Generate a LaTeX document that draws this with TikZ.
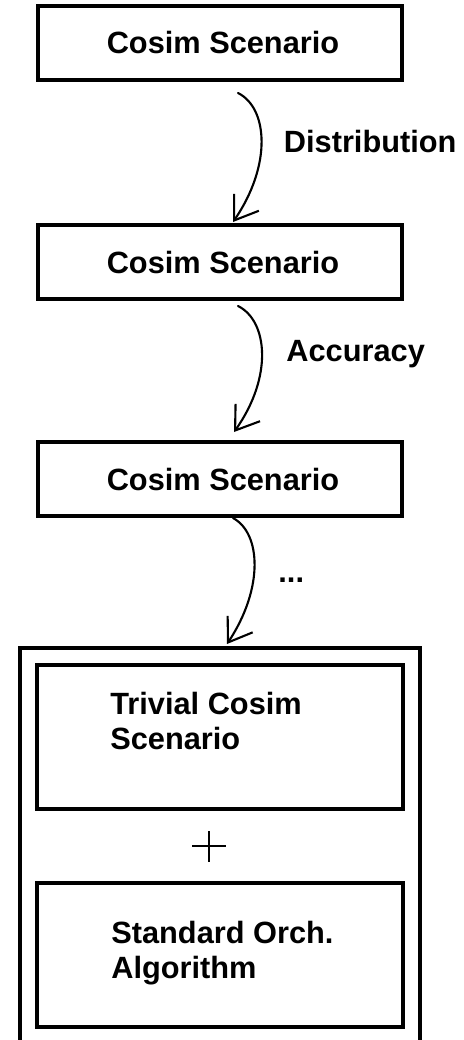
\documentclass[tikz,border=0pt]{standalone}
\usepackage{fontspec}
\setmainfont{Liberation Sans}
\usetikzlibrary{arrows.meta,positioning,calc,fit}

\begin{document}
\begin{tikzpicture}[
  scen/.style={draw,line width=1.8pt,minimum width=7.28cm,minimum height=1.48cm,inner sep=0pt,outer sep=0pt,font=\bfseries\fontsize{17.5}{20}\selectfont},
  inbox/.style={draw,line width=1.8pt,minimum width=7.32cm,minimum height=2.88cm,inner sep=0pt,outer sep=0pt},
  txt/.style={align=left,inner sep=0pt,font=\bfseries\fontsize{17.5}{20}\selectfont},
  lbl/.style={anchor=west,inner sep=0pt,font=\bfseries\fontsize{17.5}{20}\selectfont},
  hand/.style={-{Straight Barb[length=4.4mm,width=6mm]},line width=1.2pt,line cap=round}]
  \useasboundingbox (0,0) rectangle (9.26,-20.8);
  \node[scen] (s1) at (4.4,-0.86) {\hspace{0.12cm}Cosim Scenario};
  \node[scen,below=2.9cm of s1] (s2) {\hspace{0.12cm}Cosim Scenario};
  \node[scen,below=2.86cm of s2] (s3) {\hspace{0.12cm}Cosim Scenario};
  \node[inbox,below=2.98cm of s3,label={[txt,anchor=north west,xshift=1.46cm,yshift=-0.54cm]north west:{Trivial Cosim\\Scenario}}] (triv) {};
  \node[inbox,below=1.48cm of triv,label={[txt,anchor=north west,xshift=1.48cm,yshift=-0.76cm]north west:{Standard Orch.\\Algorithm}}] (std) {};
  \node[draw,line width=1.8pt,outer sep=0pt,inner sep=0.34cm,fit=(triv)(std)] (outer) {};
  % hand drawn arrows
  \draw[hand] ([shift={(0.36,-0.26)}]s1.south) .. controls +(0.6,-0.3) and +(0.78,1.14) .. ([shift={(0.26,0.06)}]s2.north) node[lbl,pos=0.5,xshift=0.43cm] {Distribution};
  \draw[hand] ([shift={(0.36,-0.14)}]s2.south) .. controls +(0.6,-0.3) and +(0.78,1.1) .. ([shift={(0.28,0.2)}]s3.north) node[lbl,pos=0.5,xshift=0.47cm] {Accuracy};
  \draw[hand] ([shift={(0.26,-0.04)}]s3.south) .. controls +(0.56,-0.3) and +(0.74,1.12) .. ([shift={(0.14,0.08)}]outer.north) node[lbl,pos=0.5,xshift=0.46cm,yshift=-0.3cm] {...};
  % plus between the inner boxes
  \coordinate (plus) at ($(triv.south)!0.5!(std.north)+(-0.22,0)$);
  \draw[line width=0.85pt] ([xshift=-0.34cm]plus) -- ([xshift=0.34cm]plus) ([yshift=0.3cm]plus) -- ([yshift=-0.32cm]plus);
\end{tikzpicture}
\end{document}
